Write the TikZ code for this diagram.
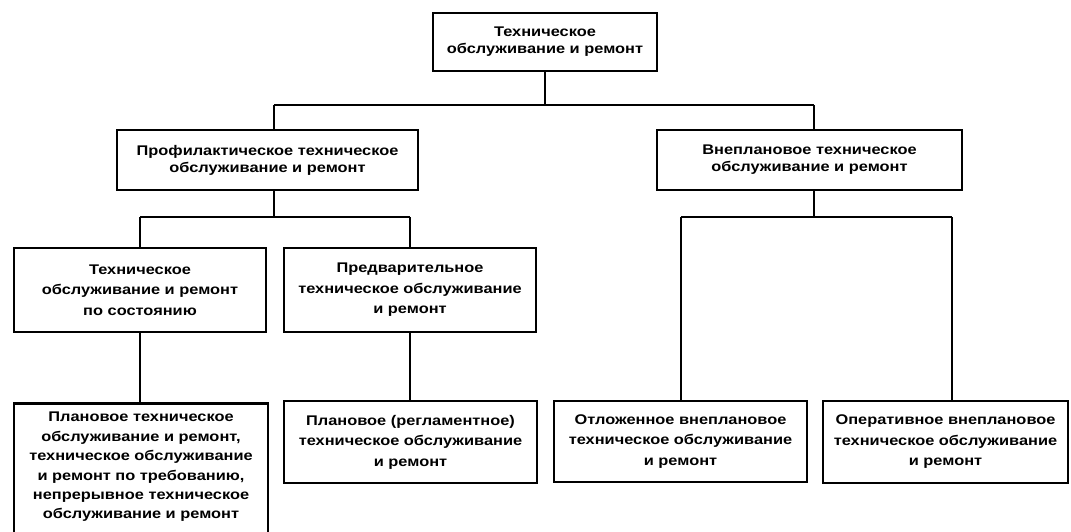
\documentclass[tikz,border=0pt]{standalone}
\usepackage{fontspec}
\setmainfont{Liberation Sans}[FakeStretch=1.17]
\begin{document}
\begin{tikzpicture}[x=1pt,y=-1pt,
  txt/.style={inner sep=0pt, align=center, font=\bfseries\fontsize{14}{17}\selectfont},
  box/.style={txt, draw, line width=2.6pt, rectangle},
  box3/.style={box, font=\bfseries\fontsize{14}{20.5}\selectfont},
  link/.style={line width=2.6pt}]
\useasboundingbox (0,0) rectangle (1071,531);
\clip (0,0) rectangle (1071,531);
\fill[white] (0,0) rectangle (1071,531);

\node[box, minimum width=224pt, minimum height=58pt] (top) at (545,42)
  {Техническое\\обслуживание и ремонт};
\node[box, minimum width=301pt, minimum height=60pt] (prof) at (267.5,160)
  {Профилактическое техническое\\обслуживание и ремонт};
\node[box, minimum width=305pt, minimum height=60pt] (vnep) at (809.5,160)
  {Внеплановое техническое\\обслуживание и ремонт};
\node[box3, minimum width=252pt, minimum height=84pt] (sost) at (140,290)
  {Техническое\\обслуживание и ремонт\\по состоянию};
\node[box3, minimum width=252pt, minimum height=84pt] (pred) at (410,290)
  {Предварительное\\техническое обслуживание\\и ремонт};
\node[box, minimum width=254pt, minimum height=143pt, anchor=north] (plan) at (141,402) {};
\node[txt, font=\bfseries\fontsize{14}{19.4}\selectfont] (plantext) at (141,467)
  {Плановое техническое\\обслуживание и ремонт,\\техническое обслуживание\\и ремонт по требованию,\\непрерывное техническое\\обслуживание и ремонт};
\node[box3, minimum width=253pt, minimum height=82pt] (regl) at (410.5,442)
  {Плановое (регламентное)\\техническое обслуживание\\и ремонт};
\node[box3, minimum width=253pt, minimum height=81pt] (otl) at (680.5,441.5)
  {Отложенное внеплановое\\техническое обслуживание\\и ремонт};
\node[box3, minimum width=245pt, minimum height=82pt] (oper) at (945.5,442)
  {Оперативное внеплановое\\техническое обслуживание\\и ремонт};

\coordinate (b1l) at (274,105);
\coordinate (b1r) at (814,105);
\coordinate (b2l) at (140,217);
\coordinate (b2r) at (410,217);
\coordinate (b3l) at (681,217);
\coordinate (b3r) at (952,217);

\draw[link] (top.south) -- (top.south |- b1l);
\draw[link] (b1l) -- (b1r);
\draw[link] (b1l) -- (b1l |- prof.north);
\draw[link] (b1r) -- (b1r |- vnep.north);

\draw[link] (prof.south -| b1l) -- (b1l |- b2l);
\draw[link] (b2l) -- (b2r);
\draw[link] (b2l) -- (sost.north);
\draw[link] (b2r) -- (pred.north);
\draw[link] (sost.south) -- (sost.south |- plan.north);
\draw[link] (pred.south) -- (pred.south |- regl.north);

\draw[link] (vnep.south -| b1r) -- (b1r |- b3l);
\draw[link] (b3l) -- (b3r);
\draw[link] (b3l) -- (b3l |- otl.north);
\draw[link] (b3r) -- (b3r |- oper.north);
\end{tikzpicture}
\end{document}
